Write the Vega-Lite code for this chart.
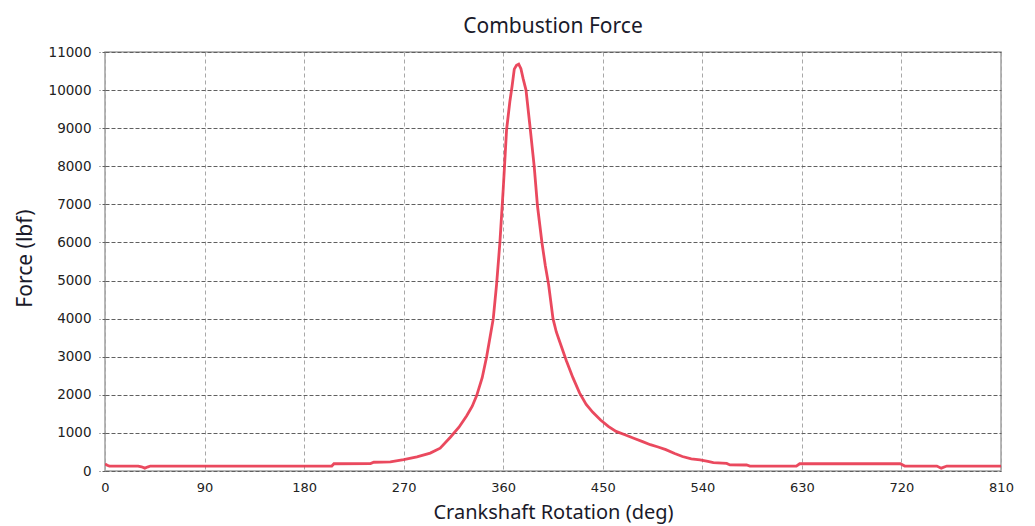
{
  "$schema": "https://vega.github.io/schema/vega-lite/v6.json",
  "autosize": "none",
  "width": 896,
  "height": 419,
  "padding": {"left": 105, "top": 52, "right": 34, "bottom": 55},
  "background": "white",
  "title": {"text": "Combustion Force", "font": "Noto Sans", "fontSize": 21, "fontWeight": "normal", "color": "#1a1a2a", "offset": 20, "baseline": "alphabetic", "dy": 29, "anchor": "middle"},
  "data": {"values": [
    {"deg": 0, "force": 185}, {"deg": 2, "force": 150}, {"deg": 4, "force": 130}, {"deg": 30, "force": 130},
    {"deg": 33, "force": 110}, {"deg": 36, "force": 75}, {"deg": 39, "force": 110}, {"deg": 41, "force": 130},
    {"deg": 205, "force": 130}, {"deg": 207, "force": 190}, {"deg": 240, "force": 195}, {"deg": 243, "force": 230},
    {"deg": 258, "force": 240}, {"deg": 270, "force": 300}, {"deg": 282, "force": 370}, {"deg": 294, "force": 470},
    {"deg": 303, "force": 600}, {"deg": 312, "force": 880}, {"deg": 320, "force": 1150}, {"deg": 327, "force": 1450},
    {"deg": 332, "force": 1700}, {"deg": 336, "force": 1980}, {"deg": 341, "force": 2450}, {"deg": 345, "force": 3000},
    {"deg": 348, "force": 3500}, {"deg": 351, "force": 4000}, {"deg": 354, "force": 4900}, {"deg": 357, "force": 6000},
    {"deg": 360, "force": 7400}, {"deg": 363, "force": 8950}, {"deg": 366, "force": 9700}, {"deg": 368, "force": 10100},
    {"deg": 370, "force": 10550}, {"deg": 372, "force": 10650}, {"deg": 374, "force": 10680}, {"deg": 376, "force": 10560},
    {"deg": 378, "force": 10300}, {"deg": 380.6, "force": 10000}, {"deg": 384, "force": 9100}, {"deg": 388, "force": 8000},
    {"deg": 391, "force": 6950}, {"deg": 395, "force": 6000}, {"deg": 398, "force": 5400}, {"deg": 401, "force": 4900},
    {"deg": 405, "force": 4000}, {"deg": 408, "force": 3650}, {"deg": 411, "force": 3400}, {"deg": 417, "force": 2900},
    {"deg": 423, "force": 2450}, {"deg": 429, "force": 2050}, {"deg": 435, "force": 1750}, {"deg": 441, "force": 1540},
    {"deg": 448, "force": 1340}, {"deg": 455, "force": 1170}, {"deg": 462, "force": 1040}, {"deg": 470, "force": 950},
    {"deg": 478, "force": 860}, {"deg": 486, "force": 770}, {"deg": 493, "force": 690}, {"deg": 500, "force": 630},
    {"deg": 507, "force": 560}, {"deg": 515, "force": 460}, {"deg": 522, "force": 380}, {"deg": 530, "force": 320},
    {"deg": 538, "force": 290}, {"deg": 545, "force": 250}, {"deg": 550, "force": 220}, {"deg": 562, "force": 200},
    {"deg": 565, "force": 160}, {"deg": 580, "force": 157}, {"deg": 583, "force": 130}, {"deg": 625, "force": 130},
    {"deg": 628, "force": 190}, {"deg": 719, "force": 190}, {"deg": 723, "force": 130}, {"deg": 752, "force": 130},
    {"deg": 756, "force": 75}, {"deg": 761, "force": 130}, {"deg": 810, "force": 130}
  ]},
  "mark": {"type": "line", "color": "#e8354c", "strokeWidth": 2.8, "opacity": 0.9, "clip": true},
  "encoding": {
    "x": {"field": "deg", "type": "quantitative", "title": "Crankshaft Rotation (deg)",
      "scale": {"domain": [0, 810], "nice": false, "zero": false},
      "axis": {"values": [0, 90, 180, 270, 360, 450, 540, 630, 720, 810], "domain": false, "ticks": false,
        "labelPadding": 10, "labelFont": "DejaVu Sans", "labelFontSize": 13, "labelColor": "#222222",
        "titleFont": "Noto Sans", "titleFontSize": 20, "titleFontWeight": "normal", "titleColor": "#1a1a2a",
        "titleY": 47, "titleBaseline": "alphabetic",
        "grid": true, "gridColor": "#a8a8a8", "gridDash": [4, 3], "gridWidth": 1, "labelFlush": false}},
    "y": {"field": "force", "type": "quantitative", "title": "Force (lbf)",
      "scale": {"domain": [0, 11000], "nice": false},
      "axis": {"values": [0, 1000, 2000, 3000, 4000, 5000, 6000, 7000, 8000, 9000, 10000, 11000], "domain": false,
        "ticks": true, "tickSize": 6, "tickColor": "#606060", "tickDash": [3, 2], "labelPadding": 8, "format": "d",
        "labelFont": "DejaVu Sans", "labelFontSize": 13.5, "labelColor": "#222222",
        "titleFont": "Noto Sans", "titleFontSize": 21, "titleFontWeight": "normal", "titleColor": "#1a1a2a",
        "titleX": -74, "titleY": 206, "titleBaseline": "alphabetic", "titleAngle": 270, "titleAlign": "center",
        "grid": true, "gridColor": "#606060", "gridDash": [4, 2], "gridWidth": 1}}
  },
  "config": {"view": {"stroke": "#a0a0a0", "strokeWidth": 1.5}}
}
